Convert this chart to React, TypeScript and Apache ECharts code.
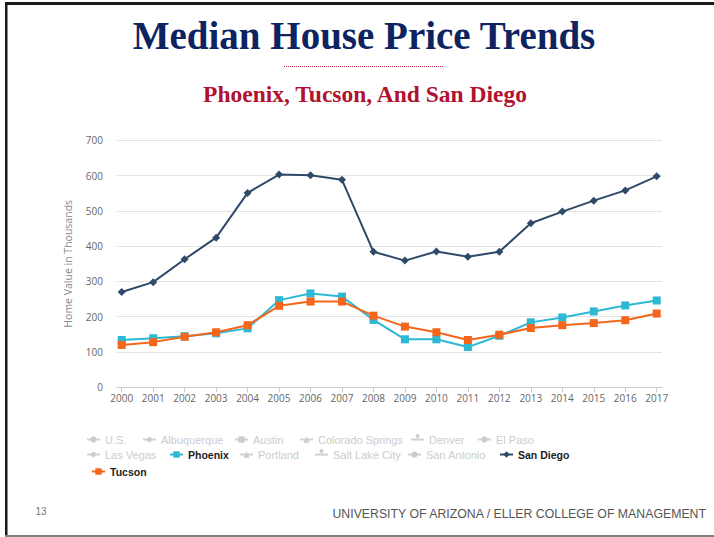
import React, { useEffect, useRef } from "react";
import * as echarts from "echarts";

const years = ["2000","2001","2002","2003","2004","2005","2006","2007","2008","2009","2010","2011","2012","2013","2014","2015","2016","2017"];
const sanDiego = [270, 298, 363, 424, 551, 603, 601, 588, 384, 359, 385, 370, 384, 465, 498, 529, 558, 598];
const phoenix = [134, 139, 145, 153, 167, 247, 266, 257, 191, 136, 136, 114, 146, 184, 198, 215, 232, 246];
const tucson = [120, 128, 143, 156, 176, 231, 243, 243, 203, 172, 156, 134, 149, 168, 176, 182, 190, 209];

const legendRow1 = ["U.S.", "Albuquerque", "Austin", "Colorado Springs", "Denver", "El Paso"];
const legendRow2 = ["Las Vegas", "Phoenix", "Portland", "Salt Lake City", "San Antonio", "San Diego"];
const legendRow3 = ["Tucson"];
const activeCities = ["Phoenix", "San Diego", "Tucson"];

const titleText = "Median House Price Trends";
const subtitleText = "Phoenix, Tucson, And San Diego";
const yAxisTitle = "Home Value in Thousands";
const pageNumber = "13";
const footerText = "UNIVERSITY OF ARIZONA / ELLER COLLEGE OF MANAGEMENT";

const row1Left = [86, 142, 234, 299, 410, 477];
const row2Left = [86, 169, 239, 314, 407, 499];
const row3Left = [91];
const rowTops = [434, 449, 466];

const inactiveSymbols = ["circle", "diamond", "rect", "triangle", "pin", "circle", "diamond", "triangle", "pin", "circle"];

export default function App() {
  const ref = useRef<HTMLDivElement>(null);
  useEffect(() => {
    const chart = echarts.init(ref.current!, null, { renderer: "svg" });
    const colors: Record<string, string> = {
      "San Diego": "#2f4a68",
      Phoenix: "#2db8d4",
      Tucson: "#f4661b",
    };
    const inactive = [...legendRow1, ...legendRow2, ...legendRow3].filter((n) => !activeCities.includes(n));
    const dummySeries = inactive.map((n, i) => ({
      name: n,
      type: "line",
      xAxisIndex: 1,
      yAxisIndex: 1,
      data: [],
      symbol: inactiveSymbols[i % inactiveSymbols.length],
      symbolSize: 7,
      lineStyle: { width: 1.5 },
    }));
    const mkLegends = (names: string[], lefts: number[], top: number) =>
      names.map((n, i) => {
        const active = activeCities.includes(n);
        const sel: Record<string, boolean> = {};
        if (!active) sel[n] = false;
        return {
          data: [
            {
              name: n,
              textStyle: active
                ? { fontWeight: "bold", fontSize: 10.5, color: "#222" }
                : { fontWeight: "normal", fontSize: 11 },
            },
          ],
          selected: sel,
          left: lefts[i],
          top: top,
          padding: 0,
          itemWidth: 13,
          itemHeight: 8,
          itemGap: 0,
          inactiveColor: "#cccccc",
          inactiveBorderColor: "#cccccc",
          selectedMode: false,
          textStyle: { fontFamily: "Liberation Sans", fontSize: 11, color: "#222" },
        };
      });
    const legends = [
      ...mkLegends(legendRow1, row1Left, rowTops[0]),
      ...mkLegends(legendRow2, row2Left, rowTops[1]),
      ...mkLegends(legendRow3, row3Left, rowTops[2]),
    ];
    const mkSeries = (name: string, data: number[], symbol: string, size: number, z: number) => ({
      name,
      type: "line",
      xAxisIndex: 1,
      yAxisIndex: 1,
      data,
      symbol,
      symbolSize: size,
      showAllSymbol: true,
      lineStyle: { width: 2, color: colors[name] },
      itemStyle: { color: colors[name] },
      z,
    });
    const option: any = {
      animation: false,
      backgroundColor: "#ffffff",
      grid: [
        { left: 117, right: 52, top: 140.3, bottom: 149.7 },
        { left: 121.7, right: 57.3, top: 140.3, bottom: 149.7 },
      ],
      xAxis: [
        {
          gridIndex: 0,
          type: "value",
          min: 0,
          max: 1,
          axisLine: { show: true, lineStyle: { color: "#c8ccd4", width: 1 } },
          axisTick: { show: false },
          axisLabel: { show: false },
          splitLine: { show: false },
        },
        {
          gridIndex: 1,
          type: "category",
          boundaryGap: false,
          data: years,
          axisLine: { show: false },
          axisTick: { show: true, length: 5, lineStyle: { color: "#c8ccd4" } },
          axisLabel: { color: "#666", fontSize: 10, fontFamily: "Open Sans", margin: 6, interval: 0 },
          splitLine: { show: false },
        },
      ],
      yAxis: [
        {
          gridIndex: 0,
          type: "value",
          min: 0,
          max: 700,
          interval: 100,
          axisLine: { show: false },
          axisTick: { show: false },
          axisLabel: { color: "#666", fontSize: 10, fontFamily: "Open Sans", margin: 14 },
          splitLine: { show: true, lineStyle: { color: "#e3e3e3", width: 1 } },
          name: yAxisTitle,
          nameLocation: "middle",
          nameGap: 44,
          nameRotate: 90,
          nameTextStyle: { color: "#8a8a8a", fontSize: 10.5, fontFamily: "Open Sans" },
        },
        {
          gridIndex: 1,
          type: "value",
          min: 0,
          max: 700,
          show: false,
          splitLine: { show: false },
        },
      ],
      legend: legends,
      series: [
        ...dummySeries,
        mkSeries("San Diego", sanDiego, "diamond", 8, 3),
        mkSeries("Phoenix", phoenix, "rect", 8, 4),
        mkSeries("Tucson", tucson, "rect", 8, 5),
      ],
      graphic: [
        { type: "rect", shape: { x: 5, y: 2, width: 709, height: 3 }, style: { fill: "#1a1a1a" }, silent: true },
        { type: "rect", shape: { x: 5, y: 2, width: 2.5, height: 535 }, style: { fill: "#1a1a1a" }, silent: true },
        { type: "rect", shape: { x: 5, y: 535, width: 709, height: 2 }, style: { fill: "#808080" }, silent: true },
        {
          type: "text",
          x: 364,
          y: 35,
          style: {
            text: titleText,
            fill: "#0d2461",
            fontSize: 39,
            fontWeight: "bold",
            fontFamily: "Liberation Serif",
            align: "center",
            verticalAlign: "middle",
            textAlign: "center",
            textVerticalAlign: "middle",
          },
        },
        {
          type: "line",
          shape: { x1: 284, y1: 66.5, x2: 444, y2: 66.5 },
          style: { stroke: "#c0284a", lineWidth: 1, lineDash: [1, 1] },
        },
        {
          type: "text",
          x: 365,
          y: 94,
          style: {
            text: subtitleText,
            fill: "#b0122f",
            fontSize: 23.5,
            fontWeight: "bold",
            fontFamily: "Liberation Serif",
            align: "center",
            verticalAlign: "middle",
            textAlign: "center",
            textVerticalAlign: "middle",
          },
        },
        {
          type: "text",
          x: 41,
          y: 511,
          style: {
            text: pageNumber,
            fill: "#777",
            fontSize: 10,
            fontFamily: "Liberation Sans",
            align: "center",
            verticalAlign: "middle",
            textAlign: "center",
            textVerticalAlign: "middle",
          },
        },
        {
          type: "text",
          x: 706,
          y: 514,
          style: {
            text: footerText,
            fill: "#555",
            fontSize: 12.3,
            fontFamily: "Liberation Sans",
            align: "right",
            verticalAlign: "middle",
            textAlign: "right",
            textVerticalAlign: "middle",
          },
        },
      ],
    };
    chart.setOption(option);
    return () => chart.dispose();
  }, []);
  return (
    <div
      ref={ref}
      style={{ position: "absolute", left: 0, top: 0, width: 714, height: 537, background: "#fff" }}
    />
  );
}
